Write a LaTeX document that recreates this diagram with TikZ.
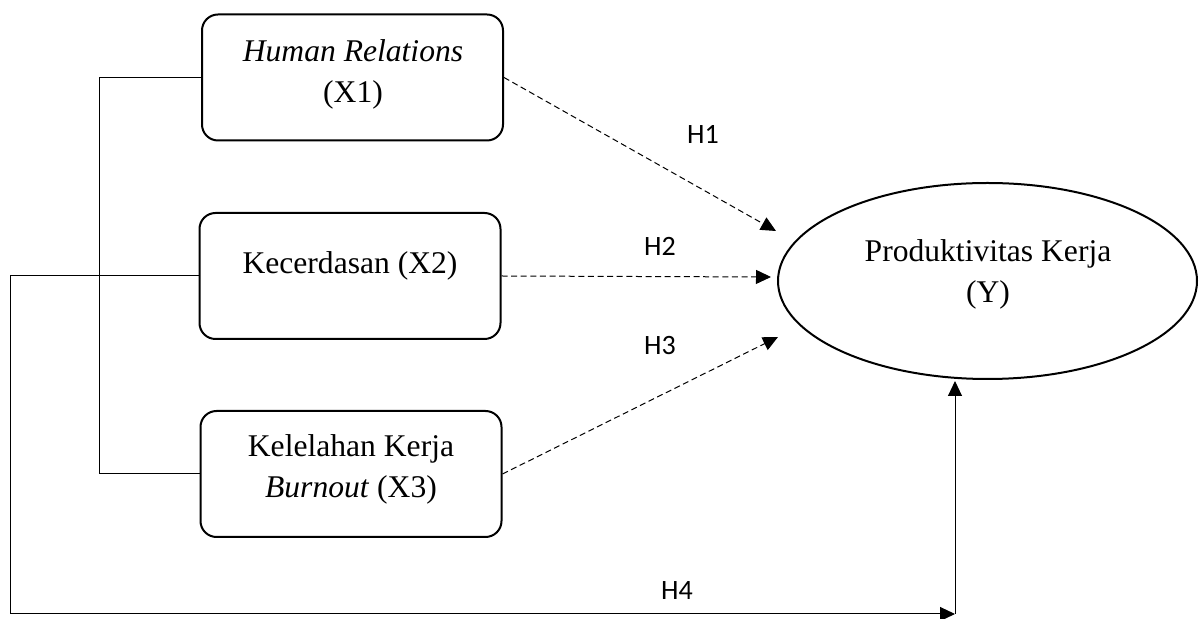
\documentclass[tikz,border=0pt]{standalone}
\usepackage{fontspec}
\setmainfont{Liberation Serif}
\newfontfamily\calibri{Carlito}
\usetikzlibrary{shapes.geometric,arrows.meta}

\tikzset{
    varbox/.style={draw,line width=1pt,rounded corners=8pt,minimum width=150.5pt,minimum height=63pt},
    vartext/.style={align=center,inner sep=0pt,font=\fontsize{15.8}{20.5}\selectfont},
    hyp/.style={inner sep=0pt,font=\calibri\fontsize{14}{16}\selectfont},
    dasharrow/.style={line width=.5pt,dash pattern=on 3pt off 1.8pt,-{Triangle[length=7.5pt,width=7pt]}},
    solidarrow/.style={line width=.5pt,-{Triangle[length=7.5pt,width=7pt]}},
}

\begin{document}
\begin{tikzpicture}[x=0.5pt,y=-0.5pt]
        \useasboundingbox (0,0) rectangle (1200,619);
        % variables
        \node[varbox] (x1) at (352.5,77.5) {};
        \node[varbox] (x2) at (350,276) {};
        \node[varbox] (x3) at (351,474) {};
        \node[ellipse,draw,line width=1pt,inner sep=0pt,minimum width=209.5pt,minimum height=98pt] (y) at (987.5,281) {};
        \node[vartext] (x1t) at (353,74) {\textit{Human Relations}\\(X1)};
        \node[vartext] (x2t) at (350,266) {Kecerdasan (X2)};
        \node[vartext] (x3t) at (351,469.5) {Kelelahan Kerja\\\textit{Burnout} (X3)};
        \node[vartext] (yt) at (988,274.5) {Produktivitas Kerja\\(Y)};
        % hypotheses
        \node[hyp] (h1) at (703,134) {H1};
        \node[hyp] (h2) at (660,246) {H2};
        \node[hyp] (h3) at (660,346) {H3};
        \node[hyp] (h4) at (677,591) {H4};
        \coordinate (e1) at (776,231);
        \coordinate (e2) at (771,277);
        \coordinate (e3) at (778,337);
        \draw[dasharrow] (x1.east) -- (e1);
        \draw[dasharrow] (x2.east) -- (e2);
        \draw[dasharrow] (x3.east) -- (e3);
        % simultaneous
        \draw[line width=.5pt] (x1.west) -- ++(-102,0) |- (x3.west);
        \coordinate (c1) at (10,614);
        \coordinate (c2) at (955,614);
        \coordinate (c3) at (955,381);
        \draw[solidarrow] (x2.west) -| (c1) -- (c2);
        \draw[solidarrow] (c2) -- (c3);
    \end{tikzpicture}
\end{document}
